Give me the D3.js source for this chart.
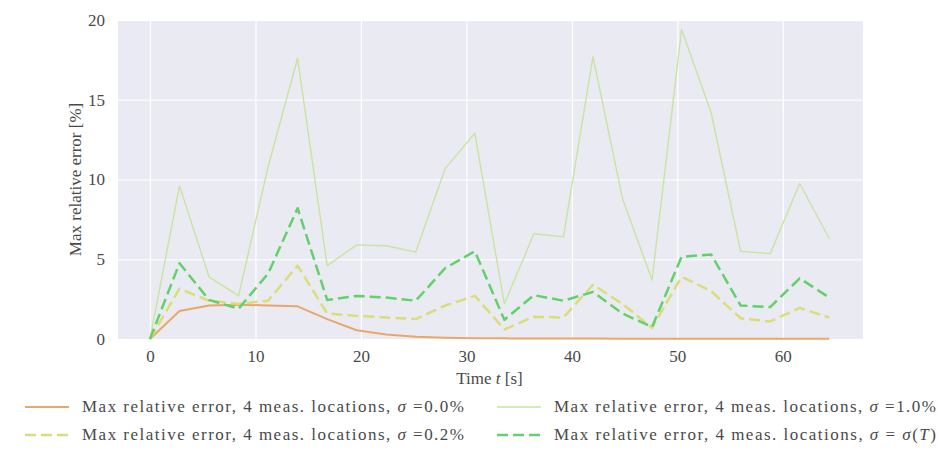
<!DOCTYPE html>
<html lang="en">
<head>
  <meta charset="UTF-8">
  <title>Max relative error</title>
  <script src="https://d3js.org/d3.v7.min.js"></script>
  <style>
    body { margin: 0; background: #fff; }
    text { font-family: "Liberation Serif", "DejaVu Serif", serif; fill: #4a4a4a; }
  </style>
</head>
<body>
  <div id="chart"></div>
  <script>
    // sample times [s]
    const times = [0, 2.8, 5.6, 8.4, 11.2, 14, 16.8, 19.6, 22.4, 25.2, 28, 30.8,
                   33.6, 36.4, 39.2, 42, 44.8, 47.6, 50.4, 53.2, 56, 58.8, 61.6, 64.4];

    // max relative error [%] per noise level
    const err00 = [0, 1.75, 2.1, 2.15, 2.1, 2.05, 1.25, 0.55, 0.28, 0.14, 0.08, 0.05,
                   0.04, 0.03, 0.03, 0.03, 0.02, 0.02, 0.02, 0.02, 0.02, 0.02, 0.02, 0.02];
    const err02 = [0, 3.15, 2.4, 2.2, 2.4, 4.6, 1.6, 1.45, 1.35, 1.25, 2.1, 2.7,
                   0.6, 1.4, 1.35, 3.4, 2.2, 0.7, 3.9, 3.0, 1.3, 1.1, 1.95, 1.35];
    const err10 = [0, 9.6, 3.9, 2.7, 10.8, 17.6, 4.6, 5.9, 5.85, 5.45, 10.7, 12.9,
                   2.2, 6.6, 6.4, 17.7, 8.8, 3.7, 19.4, 14.2, 5.5, 5.35, 9.75, 6.3];
    const errT  = [0, 4.75, 2.45, 1.9, 4.1, 8.2, 2.45, 2.7, 2.6, 2.4, 4.45, 5.5,
                   1.2, 2.75, 2.4, 2.95, 1.6, 0.75, 5.15, 5.3, 2.1, 2.0, 3.8, 2.6];

    const xTicks = [0, 10, 20, 30, 40, 50, 60];
    const yTicks = [0, 5, 10, 15, 20];

    const series = [
      { name: "σ =0.0%", values: err00, color: "#eaa76b", width: 2.0, dash: null, legend: [0, 0] },
      { name: "σ =0.2%", values: err02, color: "#dbdd7a", width: 2.5, dash: "11,5", legend: [0, 1] },
      { name: "σ =1.0%", values: err10, color: "#c8e4a0", width: 1.4, dash: null, legend: [1, 0] },
      { name: "σ = σ(T)", values: errT, color: "#62d16a", width: 2.5, dash: "11,5", legend: [1, 1] }
    ];

    const width = 939, height = 469;
    const plot = { left: 118, right: 863, top: 20, bottom: 339 };

    const svg = d3.select("#chart").append("svg")
      .attr("width", width)
      .attr("height", height);

    const x = d3.scaleLinear().domain([-3.03, 67.6]).range([plot.left, plot.right]);
    const y = d3.scaleLinear().domain([0, 20]).range([plot.bottom, plot.top]);

    // background
    svg.append("rect")
      .attr("x", plot.left).attr("y", plot.top)
      .attr("width", plot.right - plot.left)
      .attr("height", plot.bottom - plot.top)
      .attr("fill", "#eaeaf2");

    // grid
    svg.append("g")
      .attr("transform", `translate(0,${plot.bottom})`)
      .call(d3.axisBottom(x).tickValues(xTicks).tickSize(-(plot.bottom - plot.top)).tickFormat(""))
      .call(g => g.select(".domain").remove())
      .call(g => g.selectAll("line").attr("stroke", "#fff").attr("stroke-width", 1.2));

    svg.append("g")
      .attr("transform", `translate(${plot.left},0)`)
      .call(d3.axisLeft(y).tickValues(yTicks).tickSize(-(plot.right - plot.left)).tickFormat(""))
      .call(g => g.select(".domain").remove())
      .call(g => g.selectAll("line").attr("stroke", "#fff").attr("stroke-width", 1.2));

    // tick labels
    svg.append("g")
      .attr("transform", `translate(0,${plot.bottom + 8})`)
      .call(d3.axisBottom(x).tickValues(xTicks).tickSize(0).tickFormat(d3.format("d")))
      .call(g => g.select(".domain").remove())
      .call(g => g.selectAll("text").attr("font-size", 17).attr("fill", "#555")
        .style("font-family", "'Liberation Serif', serif"));

    svg.append("g")
      .attr("transform", `translate(${plot.left - 10},0)`)
      .call(d3.axisLeft(y).tickValues(yTicks).tickSize(0).tickFormat(d3.format("d")))
      .call(g => g.select(".domain").remove())
      .call(g => g.selectAll("text").attr("font-size", 17).attr("fill", "#555")
        .style("font-family", "'Liberation Serif', serif"));

    // axis labels
    const xl = svg.append("text")
      .attr("x", (plot.left + plot.right) / 2 - 1)
      .attr("y", 384)
      .attr("text-anchor", "middle")
      .attr("font-size", 17);
    xl.append("tspan").text("Time ");
    xl.append("tspan").attr("font-style", "italic").text("t");
    xl.append("tspan").text(" [s]");

    svg.append("text")
      .attr("transform", `translate(81,${(plot.top + plot.bottom) / 2}) rotate(-90)`)
      .attr("text-anchor", "middle")
      .attr("font-size", 17)
      .text("Max relative error [%]");

    // lines
    const line = vals => d3.line()
      .x((d, i) => x(times[i]))
      .y(d => y(d))(vals);

    svg.append("g").selectAll("path")
      .data(series)
      .join("path")
      .attr("d", d => line(d.values))
      .attr("fill", "none")
      .attr("stroke", d => d.color)
      .attr("stroke-width", d => d.width)
      .attr("stroke-dasharray", d => d.dash)
      .attr("stroke-linejoin", "round");

    // legend (two columns)
    const colX = [25, 497], rowY = [407, 435];
    const legend = svg.append("g").selectAll("g")
      .data(series)
      .join("g")
      .attr("transform", d => `translate(${colX[d.legend[0]]},${rowY[d.legend[1]]})`);

    legend.append("line")
      .attr("x1", 0).attr("x2", 44)
      .attr("stroke", d => d.color)
      .attr("stroke-width", d => d.width)
      .attr("stroke-dasharray", d => d.dash);

    legend.each(function(d) {
      const t = d3.select(this).append("text")
        .attr("x", 57).attr("y", 5)
        .attr("font-size", 17);
      t.append("tspan").text("Max relative error, 4 meas. locations, ");
      if (d.name === "σ = σ(T)") {
        t.append("tspan").attr("font-style", "italic").text("σ");
        t.append("tspan").text(" = ");
        t.append("tspan").attr("font-style", "italic").text("σ");
        t.append("tspan").text("(");
        t.append("tspan").attr("font-style", "italic").text("T");
        t.append("tspan").text(")");
      } else {
        t.append("tspan").attr("font-style", "italic").text("σ");
        t.append("tspan").text(d.name.slice(1));
      }
      // stretch to the width seen in the reference
      t.attr("textLength", 382).attr("lengthAdjust", "spacing");
    });
  </script>
</body>
</html>
